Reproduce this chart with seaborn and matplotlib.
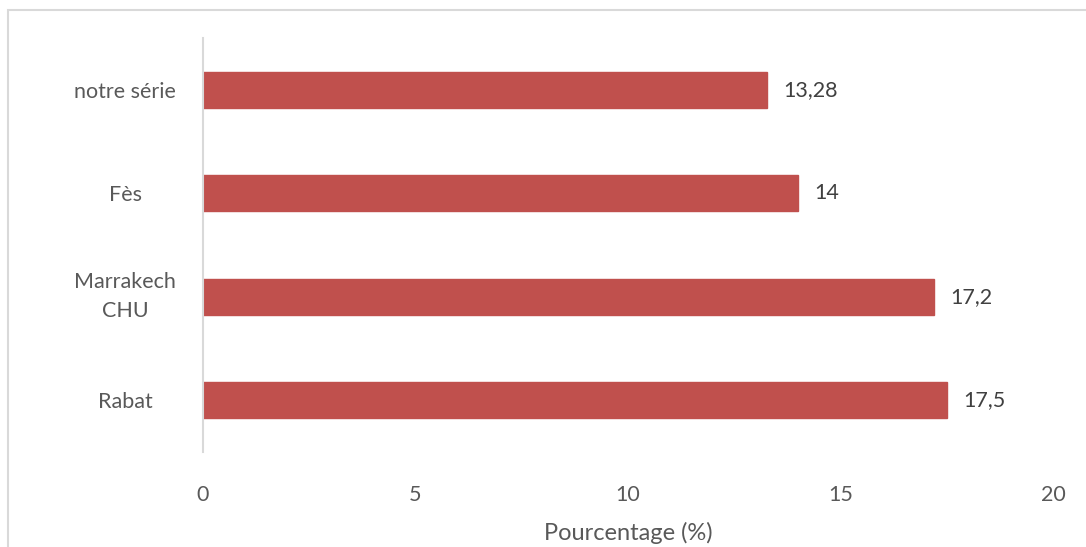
import matplotlib
matplotlib.use("Agg")
import matplotlib.pyplot as plt
import seaborn as sns
import pandas as pd
from matplotlib.patches import Rectangle

categories = ["notre série", "Fès", "Marrakech\nCHU", "Rabat"]
values = [13.28, 14, 17.2, 17.5]
value_labels = ["13,28", "14", "17,2", "17,5"]
xticks = [0, 5, 10, 15, 20]

sns.set_theme(style="white")
plt.rcParams["font.family"] = ["Lato", "DejaVu Sans"]

W, H = 1086, 547
fig = plt.figure(figsize=(W / 100, H / 100), dpi=100)
fig.patch.set_facecolor("white")

# outer chart frame
fig.add_artist(Rectangle((8 / W, -0.05), 1.1, 1 - 10 / H + 0.05,
                         transform=fig.transFigure, fill=False,
                         edgecolor="#D9D9D9", linewidth=1.5))

ax = fig.add_axes([203 / W, 1 - 452 / H, (1053 - 203) / W, (452 - 38) / H])

df = pd.DataFrame({"cat": categories, "val": values})
sns.barplot(data=df, x="val", y="cat", orient="h", color="#C0504D",
            saturation=1, width=0.35, ax=ax, edgecolor="#C0504D")

ax.set_xlim(0, 20)
ax.set_ylim(3.5, -0.5)
ax.set_xticks(xticks)
ax.set_xticklabels([str(t) for t in xticks])

txt = "#595959"
fs = 15.5
ax.tick_params(axis="both", length=0, labelsize=fs, colors=txt)
ax.tick_params(axis="x", pad=24)
for lbl in ax.get_yticklabels():
    lbl.set_horizontalalignment("center")
    lbl.set_multialignment("center")
    lbl.set_linespacing(1.55)
    if "\n" in lbl.get_text():
        lbl.set_verticalalignment("center")
ax.yaxis.set_tick_params(pad=56)

for s in ["top", "right", "bottom"]:
    ax.spines[s].set_visible(False)
ax.spines["left"].set_color("#D9D9D9")
ax.spines["left"].set_linewidth(1.5)

for i, (v, lab) in enumerate(zip(values, value_labels)):
    ax.text(v + 0.38, i, lab, va="center", ha="left", fontsize=fs, color="#404040")

ax.set_xlabel("Pourcentage (%)", fontsize=17, color=txt, labelpad=12)
ax.set_ylabel("")

fig.savefig("out.png", dpi=100, facecolor="white")
